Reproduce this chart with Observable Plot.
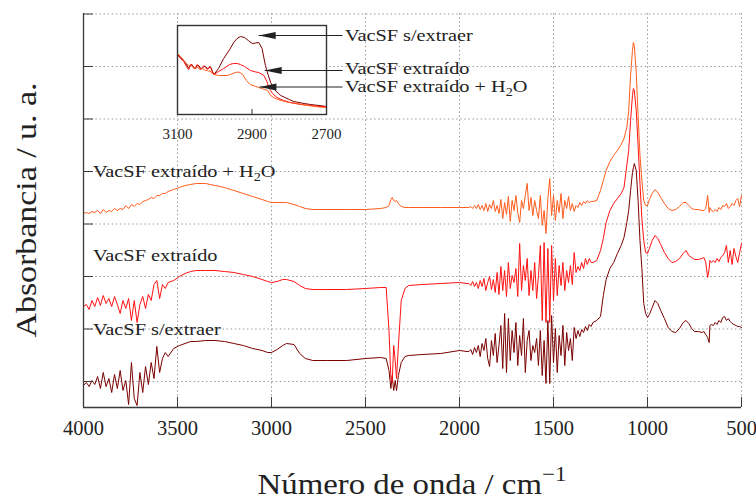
<!DOCTYPE html>
<html><head><meta charset="utf-8">
<script src="https://cdn.jsdelivr.net/npm/d3@7"></script>
<script src="https://cdn.jsdelivr.net/npm/@observablehq/plot@0.6"></script>
<style>
body{margin:0;background:#fff}
#chart{position:relative;width:756px;height:501px}
#chart text{font-family:'Liberation Serif','DejaVu Serif',serif}
</style>
</head><body><div id="chart"></div>
<script>
// ---- Data (absorbance in units of 0.01 u.a., offset spectra) ----
const wavenumbers = [
 4000,3985,3970,3955,3940,3925,3910,3895,3880,3865,3850,3835,3820,3805,3790,3775,3760,3745,3730,3715,3700,3685,3670,3655,3640,3625,3610,3595,3580,3565,3550,
 3520,3490,3460,3430,3400,3350,3300,3250,3200,3150,3100,3050,3020,3000,2970,2940,2920,2880,2850,2820,2780,2700,2600,2500,2420,2390,2375,2365,2358,2350,2342,2335,2325,2310,2290,2270,2200,2100,2000,1960,
 1950,1940,1930,1920,1910,1900,1890,1880,1870,1860,1850,1840,1830,1820,1810,1800,1790,1780,1770,1760,1750,1740,1730,1720,1710,1700,1690,1680,1670,1660,1650,1640,1630,1620,1610,1600,1590,1580,1570,1560,1550,1540,1530,1520,1510,1500,1490,1480,1470,1460,1450,1440,1430,1420,1410,1400,1390,1380,1370,1360,1350,1340,1330,1320,1310,1300,
 1290,1270,1250,1235,1220,1200,1180,1160,1140,1125,1110,1100,1090,1080,1075,1070,1060,1050,1040,1030,1020,1010,1000,990,975,960,945,930,910,890,870,850,830,810,795,780,765,750,730,710,700,690,680,672,668,660,650,640,630,620,610,600,590,580,570,560,550,540,530,520,510,500
];
const sinExtraer = [
 22,25,21,27,23,31,19,35,21,29,15,33,19,37,17,27,3,45,9,2,35,15,41,23,45,29,61,35,49,55,51,
 59,62,64,66,66,67,67,66,64,62,59,57,55,55,58,62,64,63,54,49,47,47,47,49,50,49,37,19,32,17,27,17,32,45,51,52,53,54,57,56,
 56,58,53,60,55,62,51,64,57,69,49,41,67,52,74,45,62,82,39,94,35,89,47,77,55,85,42,72,52,89,35,67,77,47,62,55,69,42,77,32,67,24,87,24,92,45,79,35,72,52,82,42,75,57,69,47,80,69,77,71,78,75,81,77,83,81,
 85,87,91,112,128,139,145,154,162,170,185,197,217,235,240,244,237,207,167,139,104,94,90,93,100,107,104,97,89,80,76,75,79,85,87,84,79,76,76,75,76,73,70,65,82,83,82,85,83,87,85,90,91,87,89,86,84,83,82,81,81,80
];
const extraido = [
 101,103,98,107,101,110,102,112,104,109,101,111,103,94,107,99,109,87,107,85,103,111,99,113,107,123,127,109,123,119,125,
 127,131,134,136,137,137,137,136,135,133,131,128,126,125,126,128,128,126,122,119,118,118,118,119,120,120,77,29,25,62,47,29,62,107,119,122,123,124,125,124,
 124,122,126,121,125,119,127,121,129,117,125,131,118,128,115,135,113,141,117,137,111,145,119,132,125,139,111,164,117,142,127,149,112,137,117,145,109,132,162,87,165,85,159,85,162,107,149,112,142,122,145,117,137,125,142,123,155,135,141,137,145,139,149,143,149,145,
 145,147,157,169,185,197,204,209,214,220,242,257,287,312,319,317,297,262,224,189,167,155,154,159,167,172,169,163,155,149,145,146,149,154,157,152,150,148,148,149,150,145,130,139,147,145,147,145,149,146,150,152,155,162,145,157,143,159,151,145,155,164
];
const extraidoH2O = [
 194,195,194,196,195,197,194,198,195,197,196,199,197,199,198,202,199,203,201,204,203,206,207,208,210,209,212,212,214,214,216,
 218,220,222,223,224,224,222,220,217,214,211,208,206,205,205,205,205,203,201,199,198,198,198,198,199,200,202,208,210,207,206,207,204,201,200,200,200,200,200,200,
 200,201,199,202,199,203,198,202,197,204,196,203,199,207,196,202,194,208,189,205,193,211,186,207,197,212,195,185,207,199,212,224,197,210,192,207,197,189,212,182,197,174,209,229,192,212,187,207,195,214,189,207,199,211,197,204,196,202,200,205,202,206,204,207,205,206,
 206,207,217,227,237,246,252,257,263,269,280,297,332,357,365,362,335,292,252,227,207,202,202,208,214,218,215,210,204,199,197,198,201,205,205,202,199,198,198,197,197,199,212,195,200,197,196,198,196,200,198,202,201,204,199,201,204,202,207,209,201,212
];

// inset (3100-2700 cm-1), arbitrary units
const insetSinWn = [3100,3092,3083,3076,3070,3065,3061,3056,3052,3047,3043,3038,3034,3029,3025,3020,3016,3013,3010,3006,3002,2990,2976,2960,2949,2940,2931,2920,2910,2899,2890,2882,2873,2864,2857,2850,2840,2823,2800,2788,2760,2743,2720,2700];
const insetSin = [60,57,54,50,46,49,50,47,46,49,49,46,46,48,48,46,46,48,47,43,40,46,56,65,72,76,78,77,74,71,71.5,72,66,49,40,32,25,19,15,13,11,10,9,8];
const insetExtWn = [3100,3092,3083,3076,3070,3065,3061,3056,3052,3047,3043,3038,3034,3029,3025,3020,3016,3013,3010,3006,3002,2990,2976,2960,2950,2940,2931,2920,2904,2890,2882,2868,2860,2855,2845,2833,2815,2797,2770,2743,2720,2700];
const insetExt = [60,56,53,48,45,50,49,46,47,50,48,45,47,49,47,45,47,48,46,42,40,43,46,50,51,51,50,48,44,42.5,42,39,33,27,21,17,14,12,10,9,8,8];
const insetH2oWn = [3100,3092,3083,3076,3070,3065,3061,3056,3052,3047,3043,3038,3034,3029,3025,3020,3016,3013,3010,3006,3002,2990,2976,2966,2955,2945,2935,2925,2915,2905,2890,2882,2870,2858,2850,2840,2823,2800,2778,2750,2720,2700];
const insetH2o = [61,58,54,51,49,48,49,47,46,47,46,45,46,45,44,44,43,44,42,41,40,39,39,39,40.5,42,42.5,40,34,30,28,27,25.5,24,19,16.5,14,12,11,9,7.5,7];

// ticks and labels
const xTicks = [4000,3500,3000,2500,2000,1500,1000,500];
const yTicks = [0.26,0.785,1.31,1.835,2.36,2.885,3.41,3.935];
const insetTicks = [3100,2900,2700];
const seriesNames = ["VacSF s/extraer","VacSF extraído","VacSF extraído + H"];
const labelWn = 3947;
const labelA = [0.72, 1.46, 2.30];
const insetLabelWn = 2649;
const insetLabelY = [73, 40, 22];
const arrowFromWn = [2657, 2657, 2657];
const arrowToWn = [2882, 2866, 2880];
const arrowY = [79, 44, 27.5];

const colors = ["#7a0000", "#ff1212", "#ff5c1c"];
const font = "'Liberation Serif','DejaVu Serif',serif";

const toRows = (wn, vals, k = 1) => wn.map((w, i) => ({wn: w, a: vals[i] * k}));
const mainSeries = [sinExtraer, extraido, extraidoH2O].map(v => toRows(wavenumbers, v, 0.01));
const insetSeries = [toRows(insetSinWn, insetSin), toRows(insetExtWn, insetExt), toRows(insetH2oWn, insetH2o)];

const grid = {stroke: "#9a9a9a", strokeOpacity: 1, strokeDasharray: "1.5,2.6", strokeWidth: 1};
const plain = d => String(d);

const main = Plot.plot({
  width: 756, height: 501,
  marginLeft: 83, marginRight: 15, marginTop: 13, marginBottom: 94,
  x: {domain: [4000, 500]},
  y: {domain: [0, 3.94]},
  style: {fontFamily: font, fontSize: "20.5px", color: "#222", background: "white"},
  marks: [
    Plot.gridX(xTicks, grid),
    Plot.gridY(yTicks, grid),
    ...mainSeries.map((d, i) => Plot.line(d, {x: "wn", y: "a", stroke: colors[i], strokeWidth: 1})),
    Plot.ruleX([4000], {stroke: "#3a3a3a", strokeWidth: 1.3}),
    Plot.ruleY([0], {stroke: "#3a3a3a", strokeWidth: 1.3}),
    Plot.axisX(xTicks, {tickSize: 10, dy: -10, tickPadding: 13, label: null, stroke: "#3a3a3a", tickFormat: plain}),
    Plot.axisY(yTicks, {tickSize: 10, dx: 10, tickFormat: () => "", label: null, stroke: "#3a3a3a"})
  ]
});

const arrows = arrowY.map((y, i) => ({from: arrowFromWn[i], to: arrowToWn[i], y}));
const arrowHead = {draw(ctx) { ctx.moveTo(0, 0); ctx.lineTo(17, -3.6); ctx.lineTo(17, 3.6); ctx.closePath(); }};

const inset = Plot.plot({
  width: 756, height: 150,
  marginLeft: 177, marginRight: 430, marginTop: 25, marginBottom: 36,
  x: {domain: [3100, 2700]},
  y: {domain: [0, 89], axis: null},
  style: {fontFamily: font, fontSize: "15px", color: "#222", background: "transparent", overflow: "visible"},
  marks: [
    Plot.frame({fill: "white", stroke: null}),
    ...insetSeries.map((d, i) => Plot.line(d, {x: "wn", y: "a", stroke: colors[i], strokeWidth: 1})),
    Plot.frame({stroke: "#333", strokeWidth: 1.4}),
    Plot.axisX(insetTicks, {tickSize: 5, dy: -5, tickPadding: 14, label: null, stroke: "#333", tickFormat: plain}),
    Plot.link(arrows, {x1: "from", x2: "to", y1: "y", y2: "y", stroke: "#222", strokeWidth: 1}),
    Plot.dot(arrows, {x: "to", y: "y", symbol: arrowHead, fill: "#222", r: 5})
  ]
});
inset.style.position = "absolute";
inset.style.left = "0px";
inset.style.top = "0px";

const chart = document.getElementById("chart");
chart.append(main, inset);

// text helper with sub/superscripts
function addText(svg, x, y, parts, {size, scaleX = 1, anchor = "start", rotate = 0}) {
  const t = d3.select(svg).append("text")
    .attr("transform", `translate(${x},${y}) rotate(${rotate}) scale(${scaleX},1)`)
    .attr("text-anchor", anchor)
    .style("font-family", font).style("font-size", size + "px").style("fill", "#222");
  for (const p of parts) {
    const s = t.append("tspan").text(p.t);
    if (p.sub) s.attr("dy", size * 0.22).style("font-size", size * 0.7 + "px");
    if (p.sup) s.attr("dy", -size * 0.42).style("font-size", size * 0.7 + "px");
    if (p.back) s.attr("dy", p.back * size);
  }
  return t;
}
const labelParts = [
  [{t: seriesNames[0]}],
  [{t: seriesNames[1]}],
  [{t: seriesNames[2]}, {t: "2", sub: true}, {t: "O", back: -0.22}]
];

const sx = main.scale("x"), sy = main.scale("y");
labelParts.forEach((p, i) => addText(main, sx.apply(labelWn), sy.apply(labelA[i]), p, {size: 17.5, scaleX: 1.16}));

const ix = inset.scale("x"), iy = inset.scale("y");
labelParts.forEach((p, i) => addText(inset, ix.apply(insetLabelWn), iy.apply(insetLabelY[i]), p, {size: 17.5, scaleX: 1.16}));

// axis titles
const [xr0, xr1] = sx.range, [yr0, yr1] = sy.range;
addText(main, (xr0 + xr1) / 2, 494, [{t: "Número de onda / cm"}, {t: "−1", sup: true}], {size: 30, scaleX: 1.095, anchor: "middle"});
addText(main, 36, (yr0 + yr1) / 2, [{t: "Absorbancia / u. a."}], {size: 30, scaleX: 1.13, anchor: "middle", rotate: -90});

// make sure tick labels use the serif face too
d3.select(chart).selectAll("text").style("font-family", font).style("font-variant", "normal");
</script>
</body></html>
